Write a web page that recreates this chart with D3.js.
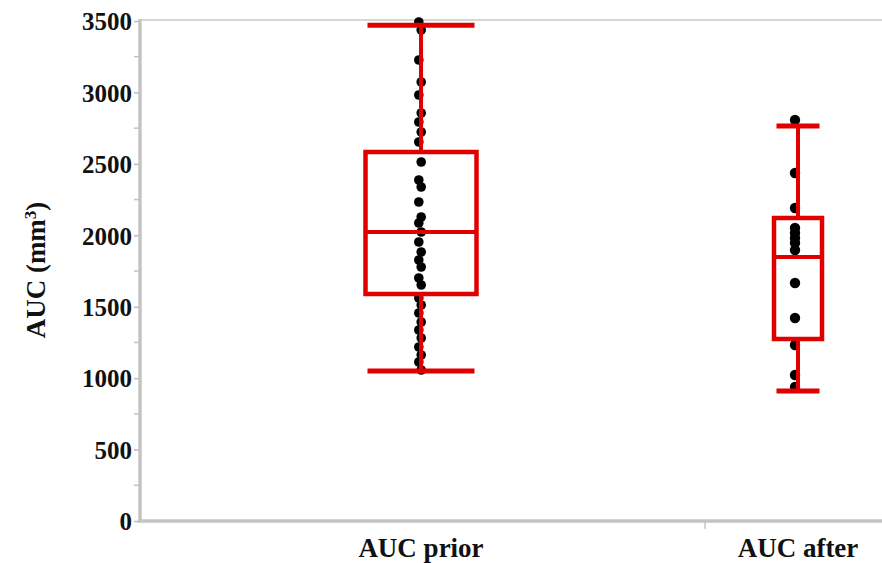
<!DOCTYPE html>
<html><head><meta charset="utf-8">
<script src="https://cdn.jsdelivr.net/npm/d3@7/dist/d3.min.js"></script>
<style>
html,body{margin:0;padding:0;background:#fff;}
svg{display:block;}
text{font-family:"Liberation Serif","Times New Roman",serif;font-weight:bold;fill:#111;}
</style></head>
<body><svg id="c" width="882" height="563"></svg>
<script>
const categories = ["AUC prior", "AUC after"];
// box stats: [lower whisker, Q1, median, Q3, upper whisker]
const statsPrior = [1050, 1589, 2023, 2583, 3470];
const statsAfter = [910, 1274, 1848, 2121, 2765];
const pointsPrior = [3493, 3437, 3227, 3073, 2982, 2856, 2793, 2723, 2653, 2513, 2387, 2338, 2233, 2128, 2086, 2023, 1953, 1883,
  1827, 1778, 1701, 1652, 1561, 1512, 1456, 1393, 1337, 1281, 1218, 1162, 1113, 1057];
const pointsAfter = [2807, 2436, 2191, 2051, 2016, 1981, 1946, 1897, 1666, 1421, 1232, 1022, 938];
const yTicks = [0, 500, 1000, 1500, 2000, 2500, 3000, 3500];

const svg = d3.select("#c");
const mLeft = 140, mRight = 882, mTop = 21, mBottom = 521;
const y = d3.scaleLinear().domain([0, 3500]).range([mBottom, mTop]);
const x = d3.scalePoint().domain(categories).range([421, 798]);

const boxW = {"AUC prior": 111, "AUC after": 48};
const capW = {"AUC prior": 107, "AUC after": 43};
const dotR = {"AUC prior": 4.8, "AUC after": 5.2};
const dotDx = {"AUC prior": -1, "AUC after": -3};
const groups = [
  {cat: categories[0], stats: statsPrior, pts: pointsPrior},
  {cat: categories[1], stats: statsAfter, pts: pointsAfter}
];

// frame
svg.append("line").attr("x1", mLeft).attr("x2", mRight).attr("y1", mTop - 1).attr("y2", mTop - 1)
  .attr("stroke", "#c9c9c9").attr("stroke-width", 1.5);

// y axis
const yAxis = d3.axisLeft(y).tickValues(yTicks).tickSize(6).tickPadding(2).tickFormat(d3.format("d"));
const ga = svg.append("g").attr("transform", `translate(${mLeft},0)`).call(yAxis);
ga.select(".domain").remove();
ga.selectAll(".tick line").attr("stroke", "#bbb").attr("stroke-width", 1.5);
ga.selectAll(".tick text").style("font-size", "25px").attr("dy", "0.35em").attr("fill", "#111");
// minor ticks
const minor = d3.range(250, 3500, 500);
svg.append("g").selectAll("line").data(minor).join("line")
  .attr("x1", mLeft - 6).attr("x2", mLeft).attr("y1", d => y(d)).attr("y2", d => y(d))
  .attr("stroke", "#c4c4c4").attr("stroke-width", 1.5);
svg.append("line").attr("x1", mLeft).attr("x2", mLeft).attr("y1", mTop - 2).attr("y2", mBottom + 1.5)
  .attr("stroke", "#c4c4c4").attr("stroke-width", 3.5);
// x axis
svg.append("line").attr("x1", mLeft - 2).attr("x2", mRight).attr("y1", mBottom).attr("y2", mBottom)
  .attr("stroke", "#c4c4c4").attr("stroke-width", 3.5);
svg.append("line").attr("x1", 705).attr("x2", 705).attr("y1", mBottom).attr("y2", mBottom + 8)
  .attr("stroke", "#c4c4c4").attr("stroke-width", 1.5);

// category labels
svg.append("g").selectAll("text").data(categories).join("text")
  .attr("x", d => x(d)).attr("y", 557).attr("text-anchor", "middle")
  .style("font-size", "27px").text(d => d);

// y label
const yl = svg.append("text").attr("transform", "translate(45,270) rotate(-90)")
  .attr("text-anchor", "middle").style("font-size", "27px");
yl.append("tspan").text("AUC (mm");
yl.append("tspan").attr("baseline-shift", "super").style("font-size", "17px").text("3");
yl.append("tspan").text(")");

const red = "#e00000";
groups.forEach(g => {
  const cx = x(g.cat);
  // dots
  svg.append("g").selectAll("circle").data(g.pts).join("circle")
    .attr("cx", (d, i) => cx + dotDx[g.cat] + (g.cat === categories[0] ? (i % 2 ? 1.2 : -1.2) : 0))
    .attr("cy", d => y(d)).attr("r", dotR[g.cat]).attr("fill", "#000");
  const [lo, q1, med, q3, hi] = g.stats;
  const bw = boxW[g.cat], cw = capW[g.cat];
  const G = svg.append("g").attr("stroke", red).attr("fill", "none");
  G.append("line").attr("x1", cx).attr("x2", cx).attr("y1", y(hi)).attr("y2", y(q3)).attr("stroke-width", 4);
  G.append("line").attr("x1", cx).attr("x2", cx).attr("y1", y(q1)).attr("y2", y(lo)).attr("stroke-width", 4);
  G.append("line").attr("x1", cx - cw / 2).attr("x2", cx + cw / 2).attr("y1", y(hi)).attr("y2", y(hi)).attr("stroke-width", 5);
  G.append("line").attr("x1", cx - cw / 2).attr("x2", cx + cw / 2).attr("y1", y(lo)).attr("y2", y(lo)).attr("stroke-width", 5);
  G.append("rect").attr("x", cx - bw / 2).attr("y", y(q3)).attr("width", bw).attr("height", y(q1) - y(q3)).attr("stroke-width", 4.5);
  G.append("line").attr("x1", cx - bw / 2).attr("x2", cx + bw / 2).attr("y1", y(med)).attr("y2", y(med)).attr("stroke-width", 4);
});
</script></body></html>
